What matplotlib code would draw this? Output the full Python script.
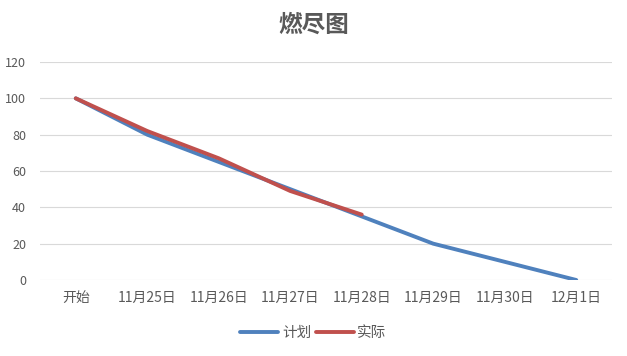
import matplotlib
matplotlib.use("Agg")
import matplotlib.pyplot as plt

plt.rcParams['font.family'] = ['Noto Sans CJK SC', 'DejaVu Sans']

# data
categories = ['开始', '11月25日', '11月26日', '11月27日', '11月28日', '11月29日', '11月30日', '12月1日']
plan = [100, 80, 65, 50, 35, 20, 10, 0]
actual = [100, 82, 67, 49, 36]

blue = '#4F81BD'
red = '#C0504D'
grey = '#595959'

fig = plt.figure(figsize=(6.27, 3.56), dpi=100)
ax = fig.add_axes([40 / 627, 1 - 280 / 356, 572 / 627, 218 / 356])

x = list(range(len(categories)))
ax.plot(x, plan, color=blue, lw=2.8, solid_capstyle='round', label='计划')
ax.plot(x[:len(actual)], actual, color=red, lw=2.8, solid_capstyle='round', label='实际')

ax.set_xlim(-0.5, len(categories) - 0.5)
ax.set_ylim(0, 120)
ax.set_yticks(range(0, 121, 20))
ax.set_xticks(x)
ax.set_xticklabels(categories)
ax.tick_params(length=0, colors=grey)
ax.tick_params(axis='x', labelsize=10, pad=8)
ax.tick_params(axis='y', labelsize=9, pad=10)
ax.grid(axis='y', color='#D9D9D9', lw=0.8)
ax.set_axisbelow(True)
for s in ax.spines.values():
    s.set_visible(False)

fig.text(0.5, 1 - 25 / 356, '燃尽图', ha='center', va='center',
         fontsize=17, fontweight='bold', color=grey)

fig.legend(loc='center', bbox_to_anchor=(0.5, 1 - 333 / 356), ncol=2,
           frameon=False, fontsize=10.5, labelcolor=grey, handlelength=2.6,
           handletextpad=0.25, columnspacing=0.3)

fig.savefig('out.png', dpi=100)
